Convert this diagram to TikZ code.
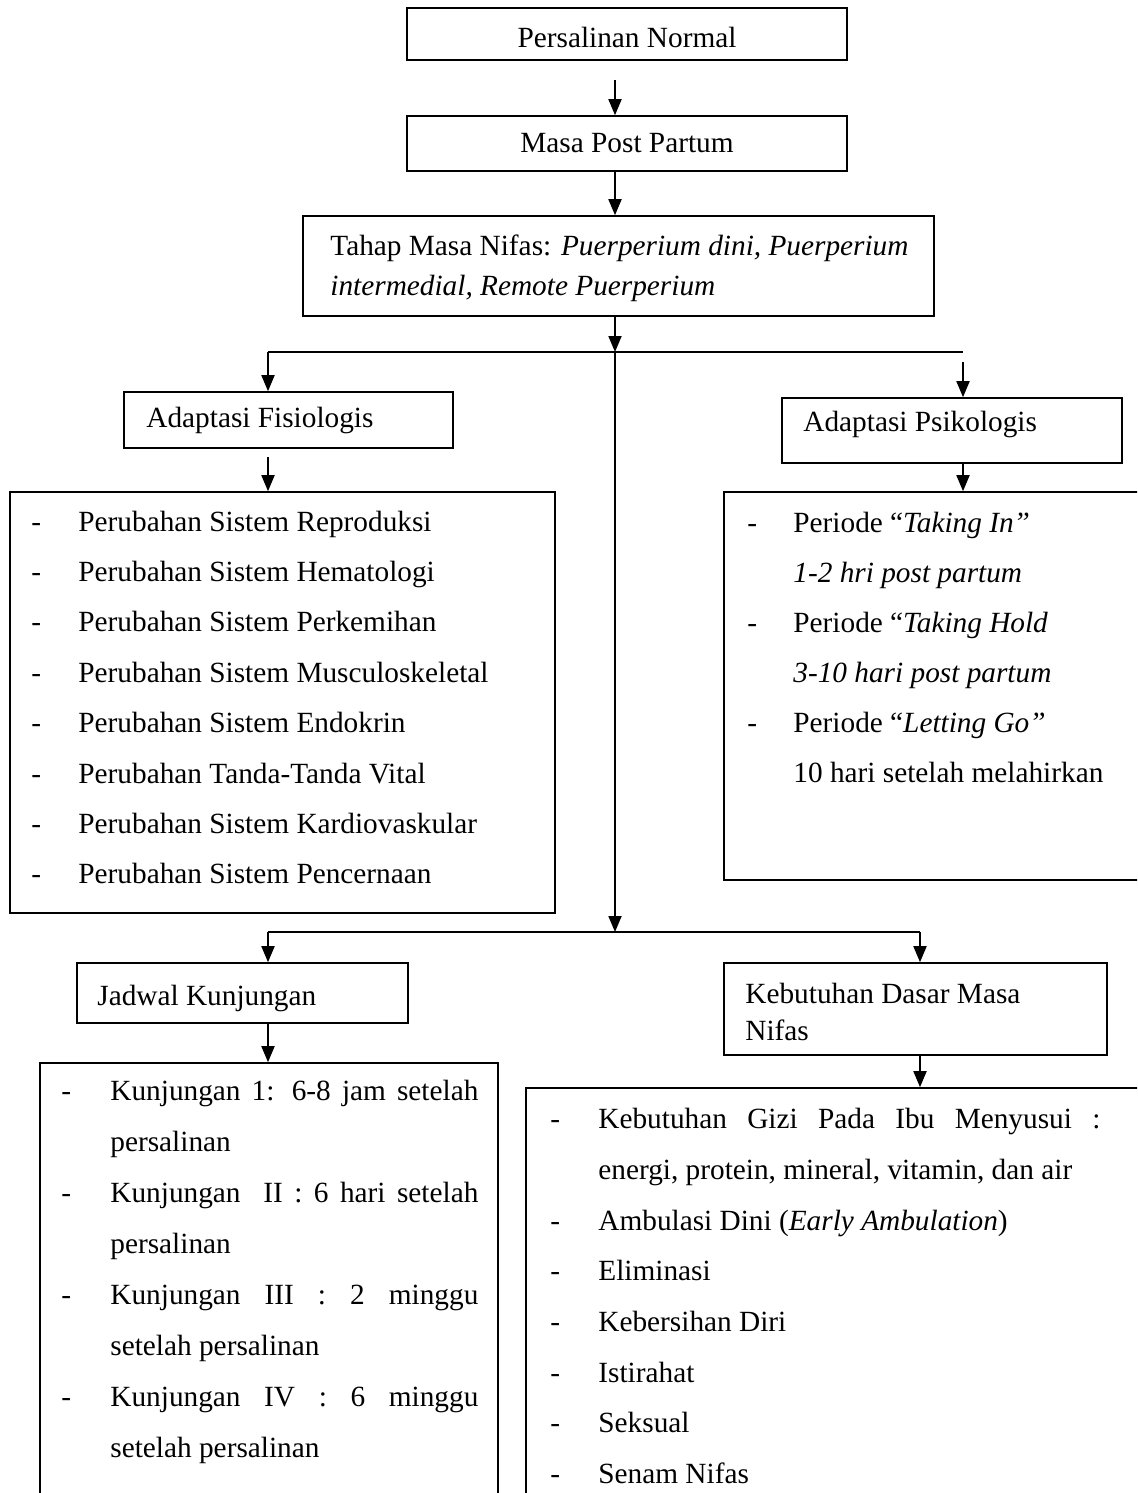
\documentclass[tikz,border=0pt]{standalone}
\usepackage{fontspec}
\setmainfont{Liberation Serif}
\usetikzlibrary{arrows.meta,fit,calc}
\newcommand{\fsz}{\fontsize{14.65pt}{17pt}\selectfont}
\begin{document}
\begin{tikzpicture}[x=0.5pt,y=-0.5pt,
  box/.style={draw, line width=0.8pt, inner sep=0pt},
  arr/.style={line width=0.9pt, -{Triangle[width=6.5pt,length=8pt]}},
  ln/.style={line width=0.9pt},
  txt/.style={anchor=base west, inner sep=0pt, font=\fsz},
  ctxt/.style={anchor=base, inner sep=0pt, font=\fsz}]
\useasboundingbox (0,0) rectangle (1137,1493);
\clip (0,0) rectangle (1137,1493);
% boxes
\node[box, fit={(407,8) (847,60)}] (b1) {};
\node[box, fit={(407,116) (847,171)}] (b2) {};
\node[box, fit={(303,216) (934,316)}] (b3) {};
\node[box, fit={(124,392) (453,448)}] (fis) {};
\node[box, fit={(10,492) (555,913)}] (fisl) {};
\node[box, fit={(782,398) (1122,463)}] (psi) {};
\node[box, fit={(724,492) (1160,880)}] (psil) {};
\node[box, fit={(77,963) (408,1023)}] (jad) {};
\node[box, fit={(40,1063) (498,1520)}] (jadl) {};
\node[box, fit={(724,963) (1107,1055)}] (keb) {};
\node[box, fit={(526,1088) (1160,1520)}] (kebl) {};
% junction coordinates
\coordinate (h1l) at (268,352);
\coordinate (h1m) at (615,352);
\coordinate (h1r) at (963,352);
\coordinate (h2l) at (268,932);
\coordinate (h2m) at (615,932);
\coordinate (h2r) at (920,932);
\coordinate (a1) at (615,80);
% connectors
\draw[arr] (a1) -- (a1 |- b2.north);
\draw[arr] (a1 |- b2.south) -- (a1 |- b3.north);
\draw[arr] (h1m |- b3.south) -- (h1m);
\draw[ln] (h1l) -- (h1r);
\draw[arr] (h1l) -- (h1l |- fis.north);
\draw[arr] ($(h1r)+(0,10)$) -- (h1r |- psi.north);
\draw[arr] ($(h1l |- fis.south)+(0,8)$) -- (h1l |- fisl.north);
\draw[arr] (h1r |- psi.south) -- (h1r |- psil.north);
\draw[arr] (h1m) -- (h2m);
\draw[ln] (h2l) -- (h2r);
\draw[arr] (h2l) -- (h2l |- jad.north);
\draw[arr] (h2r) -- (h2r |- keb.north);
\draw[arr] (h2l |- jad.south) -- (h2l |- jadl.north);
\draw[arr] (h2r |- keb.south) -- (h2r |- kebl.north);
% texts
\node[ctxt] (t1) at (627,48) {Persalinan Normal};
\node[ctxt] (t2) at (627,153) {Masa Post Partum};
\node[txt] (t3a) at (330,255) {Tahap Masa Nifas: \textit{Puerperium dini, Puerperium}};
\node[txt] (t3b) at (330,295) {\textit{intermedial, Remote Puerperium}};
\node[txt] (t4) at (146,427) {Adaptasi Fisiologis};
\node[txt] (t5) at (803,431) {Adaptasi Psikologis};
\node[txt] (t6) at (97,1005) {Jadwal Kunjungan};
\node[txt] (t7a) at (745,1003) {Kebutuhan Dasar Masa};
\node[txt] (t7b) at (745,1040) {Nifas};
% left list
\foreach \t [count=\i] in {Perubahan Sistem Reproduksi, Perubahan Sistem Hematologi,
  Perubahan Sistem Perkemihan, Perubahan Sistem Musculoskeletal,
  Perubahan Sistem Endokrin, Perubahan Tanda-Tanda Vital,
  Perubahan Sistem Kardiovaskular, Perubahan Sistem Pencernaan}{
  \node[txt] (fd\i) at (31,{480.6+50.4*\i}) {-};
  \node[txt] (fi\i) at (78,{480.6+50.4*\i}) {\t};
}
% right list
\node[txt] (pd1) at (747,532) {-};
\node[txt] (pi1) at (793,532) {Periode “\textit{Taking In”}};
\node[txt] (pi2) at (793,582) {\textit{1-2 hri post partum}};
\node[txt] (pd2) at (747,632) {-};
\node[txt] (pi3) at (793,632) {Periode “\textit{Taking Hold}};
\node[txt] (pi4) at (793,682) {\textit{3-10 hari post partum}};
\node[txt] (pd3) at (747,732) {-};
\node[txt] (pi5) at (793,732) {Periode “\textit{Letting Go”}};
\node[txt] (pi6) at (793,782) {10 hari setelah melahirkan};
% bottom left list
\node[txt] (jd1) at (61,1100) {-};
\node[txt] (ji1) at (110,1100) {\makebox[184pt][s]{Kunjungan 1: 6-8 jam setelah}};
\node[txt] (ji2) at (110,1151) {persalinan};
\node[txt] (jd2) at (61,1202) {-};
\node[txt] (ji3) at (110,1202) {\makebox[184pt][s]{Kunjungan \ II : 6 hari setelah}};
\node[txt] (ji4) at (110,1253) {persalinan};
\node[txt] (jd3) at (61,1304) {-};
\node[txt] (ji5) at (110,1304) {\makebox[184pt][s]{Kunjungan III : 2 minggu}};
\node[txt] (ji6) at (110,1355) {setelah persalinan};
\node[txt] (jd4) at (61,1406) {-};
\node[txt] (ji7) at (110,1406) {\makebox[184pt][s]{Kunjungan IV : 6 minggu}};
\node[txt] (ji8) at (110,1457) {setelah persalinan};
% bottom right list
\node[txt] (kd1) at (550,1128) {-};
\node[txt] (ki1) at (598,1128) {\makebox[251pt][s]{Kebutuhan Gizi Pada Ibu Menyusui :}};
\node[txt] (ki2) at (598,1179) {energi, protein, mineral, vitamin, dan air};
\node[txt] (kd3) at (550,1230) {-};
\node[txt] (ki3) at (598,1230) {Ambulasi Dini (\textit{Early Ambulation})};
\node[txt] (kd4) at (550,1280) {-};
\node[txt] (ki4) at (598,1280) {Eliminasi};
\node[txt] (kd5) at (550,1331) {-};
\node[txt] (ki5) at (598,1331) {Kebersihan Diri};
\node[txt] (kd6) at (550,1382) {-};
\node[txt] (ki6) at (598,1382) {Istirahat};
\node[txt] (kd7) at (550,1432) {-};
\node[txt] (ki7) at (598,1432) {Seksual};
\node[txt] (kd8) at (550,1483) {-};
\node[txt] (ki8) at (598,1483) {Senam Nifas};
\end{tikzpicture}
\end{document}
